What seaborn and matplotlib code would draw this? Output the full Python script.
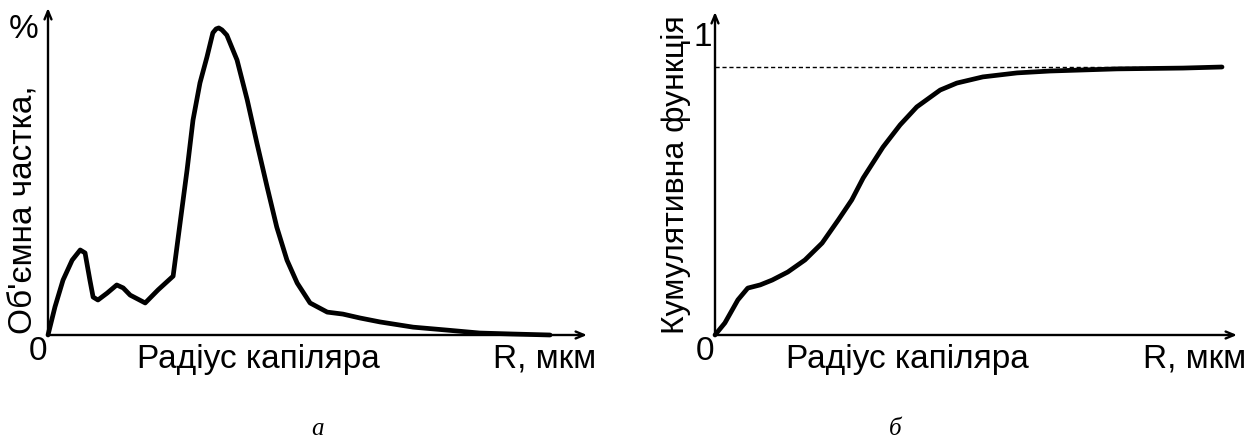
import matplotlib
matplotlib.use("Agg")
import matplotlib.pyplot as plt
import seaborn as sns
import pandas as pd

# ---- data (arbitrary units) ----
# panel a: volume fraction vs capillary radius (x: 0..100 of axis length, y: % of axis height)
radius_a = [0, 1.3, 2.8, 4.5, 6.0, 6.9, 7.8, 8.4, 9.3, 11.0, 12.8, 14.0, 15.3, 18.1,
            20.5, 23.3, 24.6, 25.9, 27.0, 28.3, 29.6, 30.7, 31.3, 31.8, 32.4, 33.3,
            35.2, 37.1, 38.9, 40.8, 42.6, 44.5, 46.4, 48.8, 52.0, 54.9, 58.1, 61.8,
            68.0, 74.3, 80.4, 86.6, 93.5]
volume_a = [0, 8.6, 16.8, 22.9, 26.0, 25.1, 16.8, 11.6, 10.7, 12.8, 15.3, 14.4, 12.2, 9.8,
            13.8, 18.0, 34.3, 50.5, 65.7, 77.1, 85.0, 92.4, 93.6, 93.9, 93.3, 91.7,
            84.1, 71.9, 58.7, 45.3, 33.0, 22.9, 15.9, 9.8, 7.0, 6.4, 5.2, 4.0,
            2.4, 1.5, 0.6, 0.3, 0.0]

# panel b: cumulative function vs capillary radius
radius_b = [0, 1.9, 4.4, 6.3, 8.7, 11.0, 14.0, 17.3, 20.6, 23.7, 26.3, 28.5, 32.3,
            35.6, 38.8, 43.3, 46.5, 51.5, 58.1, 64.4, 77.3, 90.0, 97.5]
cumul_b = [0, 0.045, 0.131, 0.175, 0.187, 0.205, 0.235, 0.280, 0.343, 0.429, 0.504,
           0.586, 0.701, 0.784, 0.851, 0.914, 0.940, 0.963, 0.978, 0.985, 0.993,
           0.996, 1.0]
asymptote_b = 1.0

ylabel_a = "Об'ємна частка,"
unit_a = "%"
ylabel_b = "Кумулятивна функція"
xlabel = "Радіус капіляра"
xunit = "R, мкм"
top_b = "1"
origin = "0"
panel_labels = ["а", "б"]

# ---- style ----
sns.set_style("white")
plt.rcParams["font.family"] = ["Liberation Sans", "DejaVu Sans"]
plt.rcParams["text.color"] = "black"

W, H = 1259, 447
fig = plt.figure(figsize=(W / 100, H / 100), dpi=100)


def fx(px):
    return px / W


def fy(py):
    return 1 - py / H


def make_axes(x0, x1, ytop, ybot):
    return fig.add_axes([fx(x0), fy(ybot), fx(x1) - fx(x0), fy(ytop) - fy(ybot)])


ax1 = make_axes(48, 587, 8, 335)
ax2 = make_axes(715, 1237, 12, 335)

df_a = pd.DataFrame({"r": radius_a, "v": volume_a})
df_b = pd.DataFrame({"r": radius_b, "c": cumul_b})

sns.lineplot(data=df_a, x="r", y="v", ax=ax1, color="black", linewidth=3.4,
             sort=False, estimator=None)
ax1.set_xlim(0, 100 * 539 / 537)
ax1.set_ylim(0, 100)

sns.lineplot(data=df_b, x="r", y="c", ax=ax2, color="black", linewidth=3.4,
             sort=False, estimator=None)
ax2.set_xlim(0, 100 * 522 / 520)
ax2.set_ylim(0, 323 / 268)
ax2.hlines(asymptote_b, 0, radius_b[-1], colors="black", linestyles=(0, (3, 2)),
           linewidth=1.0)

for ax in (ax1, ax2):
    for s in ax.spines.values():
        s.set_visible(False)
    ax.set_xticks([])
    ax.set_yticks([])
    ax.set_xlabel("")
    ax.set_ylabel("")
    ax.patch.set_alpha(0)
    for ln in ax.lines:
        ln.set_clip_on(False)
        ln.set_solid_capstyle("round")
        ln.set_solid_joinstyle("round")
    ap = dict(arrowstyle="->,head_length=0.6,head_width=0.25", color="black",
              lw=1.7, shrinkA=0, shrinkB=0)
    ax.annotate("", xy=(1, 0), xytext=(0, 0), xycoords="axes fraction",
                textcoords="axes fraction", arrowprops=ap)
    ax.annotate("", xy=(0, 1), xytext=(0, 0), xycoords="axes fraction",
                textcoords="axes fraction", arrowprops=ap)

fs = 24
# panel a texts
fig.text(fx(38), fy(352), origin, fontsize=fs, ha="center", va="center")
fig.text(fx(258), fy(368), xlabel, fontsize=fs, ha="center", va="baseline")
fig.text(fx(596), fy(368), xunit, fontsize=fs, ha="right", va="baseline")
fig.text(fx(24), fy(334), ylabel_a, fontsize=fs, rotation=90, ha="center", va="bottom")
fig.text(fx(24), fy(30), unit_a, fontsize=fs, ha="center", va="center")

# panel b texts
fig.text(fx(705), fy(352), origin, fontsize=fs, ha="center", va="center")
fig.text(fx(907), fy(368), xlabel, fontsize=fs, ha="center", va="baseline")
fig.text(fx(1246), fy(368), xunit, fontsize=fs, ha="right", va="baseline")
fig.text(fx(676), fy(334), ylabel_b, fontsize=23, rotation=90, ha="center", va="bottom")
fig.text(fx(703), fy(37), top_b, fontsize=fs, ha="center", va="center")

# panel captions
fig.text(fx(318), fy(429), panel_labels[0], fontsize=18, ha="center", va="center",
         family="Liberation Serif", style="italic")
fig.text(fx(895), fy(429), panel_labels[1], fontsize=18, ha="center", va="center",
         family="Liberation Serif", style="italic")

fig.savefig("out.png", dpi=100, facecolor="white")
